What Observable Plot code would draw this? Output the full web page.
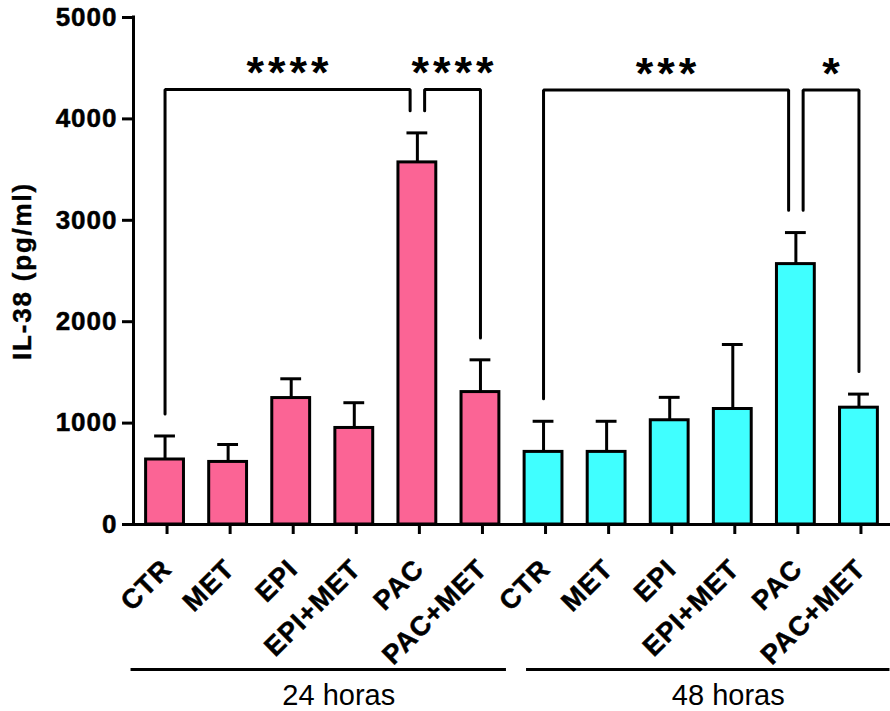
<!DOCTYPE html>
<html><head><meta charset="utf-8">
<script src="https://cdn.jsdelivr.net/npm/d3@7"></script>
<script src="https://cdn.jsdelivr.net/npm/@observablehq/plot@0.6"></script>
<style>
body{margin:0;background:#fff}
svg{display:block}
g[aria-label="y-axis tick label"] text{letter-spacing:1px;stroke:#000;stroke-width:0.5px}
g[aria-label="x-axis tick label"] text{letter-spacing:1px;stroke:#000;stroke-width:0.5px}
g[aria-description="stars"] text{letter-spacing:4px}
g[aria-description="ylabel"] text{letter-spacing:1.8px;stroke:#000;stroke-width:0.4px}
</style>
</head><body><div id="chart"></div>
<script>
// ---- data ----
const treatments = ["CTR", "MET", "EPI", "EPI+MET", "PAC", "PAC+MET"];
const groups = ["24 horas", "48 horas"];
const mean24 = [641, 617, 1247, 952, 3571, 1306];
const sem24  = [232, 172, 190, 249, 291, 318];
const mean48 = [716, 716, 1028, 1139, 2568, 1152];
const sem48  = [302, 302, 226, 636, 311, 134];
const yTicks = [0, 1000, 2000, 3000, 4000, 5000];
const yLabel = "IL-38 (pg/ml)";
const groupColors = ["#FB6495", "#40FFFF"];
// significance brackets (bar index from / to, leg end values, bracket height, label)
const bracketFrom    = [0, 4, 6, 10];
const bracketTo      = [4, 5, 10, 11];
const bracketFromEnd = [1090, 4080, 1240, 3100];
const bracketToEnd   = [4080, 1840, 3100, 1510];
const bracketTop     = [4290, 4290, 4285, 4285];
const bracketLabel   = ["****", "****", "***", "*"];

// ---- build tables ----
const means = [mean24, mean48];
const sems = [sem24, sem48];
const n = treatments.length;
const bars = groups.flatMap((g, k) => treatments.map((t, j) => ({
  group: g, treatment: t, idx: k * n + j, mean: means[k][j], sem: sems[k][j]
})));
const tickLabels = bars.map(d => d.treatment);
const halfBar = 0.3, halfCap = 0.165, legGap = 0.115;

const bracketPts = [];
const stars = [];
bracketFrom.forEach((f, b) => {
  const t = bracketTo[b];
  const xl = f + (bracketTo.includes(f) ? legGap : 0);
  const xr = t - (bracketFrom.includes(t) ? legGap : 0);
  bracketPts.push(
    {b, x: xl, y: bracketFromEnd[b]},
    {b, x: xl, y: bracketTop[b]},
    {b, x: xr, y: bracketTop[b]},
    {b, x: xr, y: bracketToEnd[b]}
  );
  stars.push({x: (xl + xr) / 2, y: bracketTop[b], label: bracketLabel[b]});
});

const groupLineExt = [[-34, -26], [-17, -31]];
const groupTextShift = [16, 27];

const font = "'Liberation Sans', Arial, Helvetica, sans-serif";

const plot = Plot.plot({
  width: 890,
  height: 711,
  marginLeft: 133,
  marginRight: 0,
  marginTop: 17,
  marginBottom: 187,
  x: {domain: [-0.5, bars.length - 0.5], axis: null},
  y: {domain: [yTicks[0], yTicks[yTicks.length - 1]], axis: null},
  color: {domain: groups, range: groupColors},
  style: {fontFamily: font, color: "black", background: "white", overflow: "visible"},
  marks: [
    Plot.rectY(bars, {x1: d => d.idx - halfBar, x2: d => d.idx + halfBar, y1: 0, y2: "mean",
      fill: "group", stroke: "black", strokeWidth: 3}),
    Plot.ruleX(bars, {x: "idx", y1: "mean", y2: d => d.mean + d.sem, strokeWidth: 3}),
    Plot.ruleY(bars, {x1: d => d.idx - halfCap, x2: d => d.idx + halfCap, y: d => d.mean + d.sem, strokeWidth: 3}),
    // axes
    Plot.axisY(yTicks, {tickSize: 11, tickPadding: 5, strokeWidth: 3, fontSize: 26, fontWeight: "bold",
      tickFormat: d => String(d), label: null}),
    Plot.ruleX([-0.5], {y1: yTicks[0], y2: yTicks[yTicks.length - 1], strokeWidth: 3, strokeLinecap: "square"}),
    Plot.axisX(bars.map(d => d.idx), {tickFormat: i => tickLabels[i], tickRotate: -45, tickSize: 10, tickPadding: 30,
      strokeWidth: 3, fontSize: 27, fontWeight: "bold", label: null, dx: 2}),
    Plot.ruleY([0], {strokeWidth: 3}),
    Plot.text([yLabel], {frameAnchor: "left", text: d => d, rotate: -90, dx: -111,
      fontSize: 26, fontWeight: "bold", textAnchor: "middle", ariaDescription: "ylabel"}),
    // brackets
    Plot.line(bracketPts, {x: "x", y: "y", z: "b", strokeWidth: 3, strokeLinejoin: "miter", curve: "linear"}),
    Plot.text(stars, {x: "x", y: "y", text: "label", fontSize: 45, fontWeight: "bold",
      lineAnchor: "bottom", dy: -1, dx: 2, ariaDescription: "stars"}),
    // group lines and labels
    ...groups.map((g, k) => Plot.ruleY([0], {x1: k * n, x2: k * n + n - 1, dy: 145, strokeWidth: 3,
      insetLeft: groupLineExt[k][0], insetRight: groupLineExt[k][1]})),
    ...groups.map((g, k) => Plot.text([g], {x: k * n + (n - 1) / 2, y: 0, text: d => d, dy: 180, dx: groupTextShift[k],
      fontSize: 29, lineAnchor: "bottom"}))
  ]
});
document.getElementById("chart").append(plot);
</script>
</body></html>
